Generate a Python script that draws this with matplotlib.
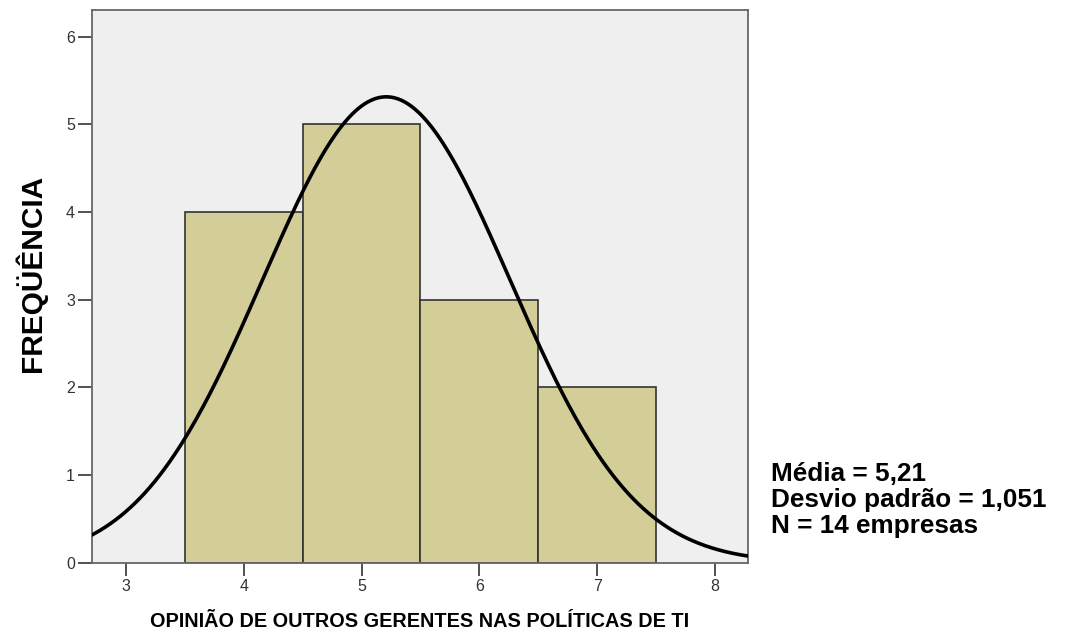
import numpy as np
import matplotlib.pyplot as plt

plt.rcParams['font.family'] = ['Liberation Sans', 'DejaVu Sans']

# histogram data
bin_centers = [4, 5, 6, 7]
counts = [4, 5, 3, 2]
bin_width = 1.0

media = 5.21
desvio = 1.051
n_empresas = 14

x_ticks = [3, 4, 5, 6, 7, 8]
y_ticks = [0, 1, 2, 3, 4, 5, 6]


def main():
    fig = plt.figure(figsize=(10.66, 6.35), dpi=100)
    ax = fig.add_axes([0.086, 0.114, 0.6157, 0.871])
    ax.set_facecolor("#efefef")

    ax.bar(bin_centers, counts, width=bin_width, color="#d3ce97",
           edgecolor="#333333", linewidth=1.2, zorder=2)

    # normal curve scaled to counts
    xs = np.linspace(2.7, 8.3, 400)
    scale = n_empresas * bin_width / (desvio * np.sqrt(2 * np.pi))
    ys = scale * np.exp(-0.5 * ((xs - media) / desvio) ** 2)
    ax.plot(xs, ys, color="black", lw=2.6, zorder=3)

    ax.set_xlim(2.71, 8.28)
    ax.set_ylim(0, 6.31)
    ax.set_xticks(x_ticks)
    ax.set_yticks(y_ticks)

    for s in ax.spines.values():
        s.set_color("#666666")
        s.set_linewidth(1.3)

    ax.tick_params(axis="both", direction="out", colors="#333333",
                   labelsize=11.5, width=1.2)
    ax.tick_params(axis="y", length=10, pad=2)
    ax.tick_params(axis="x", length=9, pad=3)

    fig.text(0.0285, 0.57, "FREQÜÊNCIA", rotation=90, ha="center", va="center",
             fontsize=21.5, fontweight="bold")
    fig.text(0.394, 0.021, "OPINIÃO DE OUTROS GERENTES NAS POLÍTICAS DE TI",
             ha="center", va="center", fontsize=14.3, fontweight="bold")

    stats = [f"Média = {media:.2f}".replace(".", ","),
             f"Desvio padrão = {desvio:.3f}".replace(".", ","),
             f"N = {n_empresas} empresas"]
    for i, line in enumerate(stats):
        fig.text(0.7235, 0.253 - i * 0.041, line, ha="left", va="center",
                 fontsize=18.8, fontweight="bold")

    fig.savefig("out.png", dpi=100)
    plt.close(fig)


if __name__ == "__main__":
    main()
